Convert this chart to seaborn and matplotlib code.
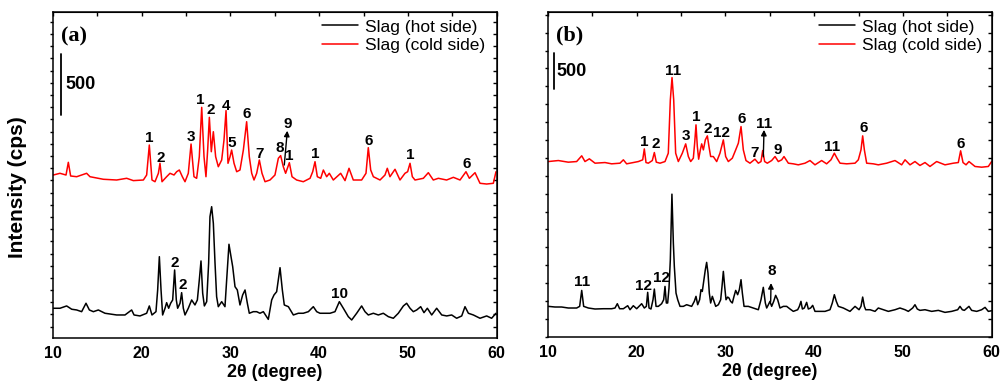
import matplotlib
matplotlib.use("Agg")
import matplotlib.pyplot as plt
import pandas as pd
import seaborn as sns
from matplotlib.ticker import MultipleLocator

sns.set_style("white")
plt.rcParams["font.family"] = ["Liberation Sans", "DejaVu Sans"]
plt.rcParams.update({"text.color": "black", "axes.labelcolor": "black",
                     "xtick.color": "black", "ytick.color": "black",
                     "axes.edgecolor": "black"})

# ---------------- data (2theta in degree, displayed intensity in cps) ----------------
a_cold_x = [10.07, 10.82, 11.50, 11.76, 12.02, 12.70, 13.82, 14.20, 15.70, 17.20, 18.33, 19.08, 20.21, 20.58,
            20.88, 21.18, 21.52, 21.90, 22.08, 22.31, 22.83, 23.21, 23.66, 23.96, 24.26, 24.60, 24.90, 25.27,
            25.58, 25.91, 26.21, 26.51, 26.78, 27.04, 27.26, 27.45, 27.64, 27.86, 28.09, 28.35, 28.65, 29.03,
            29.29, 29.52, 29.74, 29.97, 30.15, 30.42, 30.72, 31.09, 31.47, 31.84, 32.14, 32.41, 32.67, 32.97,
            33.27, 33.57, 33.91, 34.47, 35.03, 35.41, 35.67, 35.97, 36.23, 36.65, 36.95, 37.47, 38.22, 38.98,
            39.28, 39.54, 39.80, 40.18, 40.48, 40.85, 41.15, 41.60, 42.43, 42.92, 43.37, 43.85, 44.79, 45.28,
            45.54, 45.81, 46.11, 46.86, 47.42, 47.68, 47.98, 48.55, 49.11, 49.67, 49.97, 50.24, 50.50, 50.80,
            51.74, 52.30, 52.86, 53.43, 54.36, 55.12, 55.87, 56.54, 56.92, 57.56, 58.12, 58.87, 59.62, 59.92]
a_cold_y = [1244, 1258, 1244, 1348, 1236, 1230, 1258, 1230, 1209, 1203, 1217, 1198, 1203, 1244,
            1490, 1203, 1189, 1258, 1340, 1189, 1230, 1258, 1244, 1271, 1285, 1230, 1189, 1258,
            1498, 1230, 1217, 1394, 1799, 1394, 1230, 1449, 1717, 1435, 1599, 1394, 1312, 1367,
            1531, 1772, 1340, 1394, 1449, 1340, 1271, 1285, 1449, 1681, 1394, 1258, 1203, 1258,
            1367, 1258, 1189, 1203, 1244, 1381, 1403, 1312, 1258, 1345, 1230, 1203, 1189, 1217,
            1271, 1353, 1230, 1217, 1285, 1230, 1258, 1203, 1258, 1198, 1299, 1203, 1203, 1258,
            1468, 1285, 1230, 1203, 1244, 1299, 1230, 1291, 1203, 1258, 1271, 1340, 1230, 1203,
            1217, 1263, 1203, 1217, 1203, 1225, 1203, 1271, 1217, 1263, 1176, 1170, 1176, 1271]

a_hot_x = [10.07, 10.82, 11.57, 12.14, 12.70, 13.26, 13.75, 14.13, 14.58, 15.14, 15.89, 17.20, 18.14, 18.89,
           19.16, 19.83, 20.58, 20.88, 21.18, 21.63, 21.82, 22.01, 22.20, 22.38, 22.65, 22.83, 23.06, 23.28,
           23.51, 23.73, 23.92, 24.07, 24.34, 24.52, 24.71, 24.90, 25.27, 25.65, 26.02, 26.29, 26.51, 26.70,
           26.89, 27.08, 27.34, 27.56, 27.71, 27.90, 28.09, 28.28, 28.46, 28.65, 29.03, 29.40, 29.59, 29.85,
           30.08, 30.27, 30.53, 30.79, 31.09, 31.39, 31.66, 31.92, 32.14, 32.59, 32.97, 33.34, 33.72, 34.28,
           34.66, 34.92, 35.22, 35.60, 35.86, 36.08, 36.54, 37.10, 37.66, 38.22, 38.79, 39.35, 39.73, 40.10,
           40.66, 41.23, 41.79, 42.28, 42.73, 43.29, 43.67, 44.23, 44.79, 45.17, 45.54, 46.11, 46.67, 47.23,
           47.80, 48.36, 48.92, 49.49, 49.86, 50.24, 50.61, 50.99, 51.44, 51.81, 52.19, 52.68, 53.24, 53.81,
           54.37, 54.93, 55.49, 56.06, 56.43, 56.81, 57.37, 58.12, 58.87, 59.43, 59.92]
a_hot_y = [151, 151, 170, 143, 137, 123, 192, 137, 123, 137, 110, 96, 96, 137,
           96, 88, 110, 170, 96, 123, 301, 574, 301, 96, 151, 197, 151, 192,
           219, 465, 219, 151, 192, 279, 151, 96, 151, 219, 178, 219, 383, 539,
           274, 170, 205, 520, 902, 984, 848, 520, 246, 164, 205, 164, 383, 676,
           574, 492, 328, 301, 178, 260, 301, 192, 110, 123, 123, 110, 123, 60,
           219, 260, 287, 484, 301, 178, 164, 96, 110, 110, 123, 164, 123, 110,
           110, 110, 123, 205, 151, 82, 55, 110, 170, 123, 96, 110, 96, 110,
           82, 69, 110, 170, 192, 151, 123, 137, 164, 115, 151, 96, 151, 96,
           88, 96, 69, 88, 164, 110, 96, 69, 88, 69, 110]

b_cold_x = [10.07, 11.20, 12.32, 13.26, 13.83, 14.20, 14.69, 15.33, 16.45, 17.20, 18.14, 18.52, 18.89, 19.64,
            20.21, 20.70, 20.88, 21.07, 21.33, 21.78, 22.01, 22.23, 22.65, 23.21, 23.58, 23.81, 24.00, 24.19,
            24.41, 24.71, 25.16, 25.54, 25.84, 26.10, 26.40, 26.55, 26.70, 26.85, 27.00, 27.19, 27.34, 27.53,
            27.75, 27.98, 28.16, 28.35, 28.65, 29.03, 29.40, 29.78, 30.04, 30.34, 30.79, 31.17, 31.47, 31.77,
            32.03, 32.33, 32.78, 33.34, 33.72, 34.02, 34.21, 34.43, 34.73, 35.22, 35.60, 35.97, 36.35, 36.61,
            37.10, 37.66, 38.22, 38.98, 39.54, 40.10, 40.85, 41.41, 41.90, 42.28, 42.58, 42.92, 43.67, 44.61,
            44.98, 45.28, 45.47, 45.66, 45.92, 46.67, 47.23, 48.17, 49.11, 49.86, 50.24, 50.80, 51.36, 51.92,
            52.49, 53.05, 53.80, 54.74, 55.68, 56.24, 56.50, 56.77, 57.11, 57.44, 58.12, 58.87, 59.62, 59.99]
b_cold_y = [2449, 2463, 2440, 2449, 2529, 2449, 2487, 2426, 2435, 2417, 2426, 2473, 2417, 2435,
            2449, 2473, 2626, 2435, 2426, 2463, 2575, 2440, 2426, 2449, 2566, 3311, 3623, 3311,
            2566, 2449, 2566, 2696, 2519, 2449, 2496, 2706, 2962, 2659, 2482, 2612, 2696, 2612,
            2752, 2808, 2659, 2519, 2519, 2449, 2566, 2752, 2519, 2449, 2496, 2612, 2706, 2938,
            2612, 2463, 2426, 2482, 2426, 2449, 2603, 2449, 2426, 2463, 2519, 2449, 2473, 2519,
            2426, 2417, 2403, 2426, 2463, 2403, 2463, 2417, 2473, 2566, 2496, 2426, 2417, 2426,
            2473, 2612, 2808, 2612, 2426, 2417, 2403, 2426, 2463, 2403, 2473, 2403, 2449, 2394,
            2435, 2380, 2449, 2403, 2426, 2435, 2599, 2435, 2403, 2449, 2380, 2370, 2380, 2449]

b_hot_x = [10.07, 10.82, 11.57, 12.32, 13.26, 13.60, 13.83, 14.05, 14.58, 15.33, 16.27, 17.20, 17.58, 17.84,
           18.10, 18.52, 19.01, 19.27, 19.64, 20.02, 20.58, 20.88, 21.11, 21.26, 21.41, 21.63, 21.86, 22.01,
           22.20, 22.46, 22.83, 23.06, 23.21, 23.36, 23.51, 23.66, 23.81, 23.99, 24.15, 24.26, 24.45, 24.64,
           24.90, 25.27, 25.65, 26.21, 26.51, 26.70, 26.89, 27.11, 27.26, 27.41, 27.60, 27.75, 27.90, 28.05,
           28.20, 28.35, 28.54, 28.73, 28.92, 29.22, 29.48, 29.63, 29.78, 29.93, 30.08, 30.27, 30.42, 30.60,
           30.79, 30.98, 31.17, 31.39, 31.58, 31.77, 31.92, 32.11, 32.59, 33.16, 33.72, 34.02, 34.28, 34.51,
           34.66, 34.85, 35.03, 35.22, 35.45, 35.67, 35.90, 36.16, 36.54, 36.91, 37.29, 37.66, 38.15, 38.34,
           38.52, 38.68, 38.90, 39.16, 39.35, 39.61, 39.84, 40.10, 40.66, 41.23, 41.79, 42.05, 42.28, 42.50,
           42.73, 43.29, 44.04, 44.61, 45.06, 45.28, 45.47, 45.66, 45.81, 46.30, 46.86, 47.23, 47.80, 48.36,
           49.11, 49.67, 50.24, 50.61, 51.10, 51.36, 51.62, 51.92, 52.49, 53.24, 53.99, 54.74, 55.49, 56.17,
           56.43, 56.69, 56.92, 57.44, 57.74, 58.31, 58.87, 59.25, 59.62, 59.99]
b_hot_y = [424, 415, 415, 401, 401, 424, 647, 424, 401, 387, 391, 391, 401, 461,
           391, 391, 433, 377, 433, 391, 461, 401, 424, 620, 401, 387, 517, 666,
           424, 424, 461, 517, 703, 471, 471, 680, 1076, 1993, 1309, 983, 610, 517,
           424, 424, 447, 424, 494, 564, 447, 517, 657, 633, 797, 936, 1039, 890,
           610, 471, 564, 494, 424, 447, 517, 703, 913, 703, 517, 554, 540, 494,
           471, 564, 647, 587, 657, 797, 610, 424, 424, 401, 377, 517, 690, 471,
           401, 447, 494, 424, 494, 578, 517, 401, 424, 424, 387, 354, 377, 424,
           494, 387, 401, 480, 387, 401, 438, 354, 354, 354, 377, 471, 587, 494,
           424, 401, 354, 424, 377, 424, 554, 424, 377, 377, 354, 401, 377, 354,
           377, 401, 377, 354, 401, 447, 387, 368, 377, 354, 368, 340, 354, 377,
           424, 377, 368, 424, 368, 354, 377, 410, 354, 363]

series_names = ["Slag (hot side)", "Slag (cold side)"]
series_colors = ["#000000", "#ff0000"]

# phase labels: (text, 2theta, intensity)
a_labels = [("1", 20.88, 1550), ("2", 22.20, 1381), ("3", 25.57, 1553), ("1", 26.67, 1859),
            ("2", 27.79, 1777), ("4", 29.48, 1810), ("5", 30.19, 1509), ("6", 31.88, 1744),
            ("7", 33.27, 1416), ("8", 35.52, 1463), ("9", 36.42, 1660), ("1", 36.64, 1402),
            ("1", 39.57, 1416), ("6", 45.54, 1525), ("1", 50.24, 1408), ("6", 56.62, 1334),
            ("2", 23.77, 520), ("2", 24.59, 342), ("10", 42.27, 266)]
a_arrows = [((36.08, 1326), (36.42, 1607))]
b_labels = [("1", 20.84, 2728), ("2", 22.16, 2692), ("11", 24.14, 3716), ("3", 25.57, 2808),
            ("1", 26.70, 3069), ("2", 28.02, 2902), ("12", 29.59, 2846), ("6", 31.85, 3041),
            ("7", 33.34, 2575), ("11", 34.39, 2971), ("9", 35.86, 2612), ("11", 41.98, 2650),
            ("6", 45.54, 2916), ("6", 56.54, 2692),
            ("11", 13.83, 759), ("12", 20.77, 712), ("12", 22.84, 820), ("8", 35.23, 912)]
b_arrows = [((34.28, 2515), (34.36, 2892)), ((35.11, 493), (35.15, 750))]

scale_value = 500
a_scale = (10.93, 1736)
b_scale = (10.71, 3460)

xticks = [10, 20, 30, 40, 50, 60]

# ---------------- figure ----------------
fig = plt.figure(figsize=(10, 3.9), dpi=100)
axA = fig.add_axes([0.0527, 0.1333, 0.444, 0.835])
axB = fig.add_axes([0.5477, 0.1367, 0.444, 0.8318])

panels = [
    (axA, a_hot_x, a_hot_y, a_cold_x, a_cold_y, a_labels, a_arrows, a_scale, (-93, 2578), 100, "(a)", 0.606, 0.9785, 0.45),
    (axB, b_hot_x, b_hot_y, b_cold_x, b_cold_y, b_labels, b_arrows, b_scale, (0, 4536), 250, "(b)", 0.611, 0.978, 0.3),
]

for ax, hx, hy, cx, cy, labels, arrows, scale, ylim, ystep, tag, lgx, lgy, sgap in panels:
    df = pd.concat([
        pd.DataFrame({"two_theta": hx, "intensity": hy, "sample": series_names[0]}),
        pd.DataFrame({"two_theta": cx, "intensity": cy, "sample": series_names[1]}),
    ])
    sns.lineplot(data=df, x="two_theta", y="intensity", hue="sample",
                 palette=dict(zip(series_names, series_colors)), estimator=None,
                 sort=False, lw=1.1, ax=ax)
    ax.set_xlim(10, 60)
    ax.set_ylim(*ylim)
    ax.set_xticks(xticks)
    ax.xaxis.set_minor_locator(MultipleLocator(5))
    ax.yaxis.set_major_locator(MultipleLocator(ystep))
    ax.set_yticklabels([])
    ax.tick_params(axis="x", which="major", direction="out", length=4.5, width=1.0,
                   labelsize=11.5, pad=1.5, colors="black")
    ax.tick_params(axis="x", which="minor", direction="out", length=2.5, width=1.0, colors="black")
    ax.tick_params(axis="y", which="major", direction="out", length=2.5, width=1.0, left=True,
                   colors="black")
    for lab in ax.get_xticklabels():
        lab.set_fontweight("bold")
    for s in ax.spines.values():
        s.set_linewidth(1.1)
        s.set_color("black")
    secx = ax.secondary_xaxis("top")
    secx.set_xticks(xticks)
    secx.xaxis.set_minor_locator(MultipleLocator(5))
    secx.tick_params(axis="x", which="both", direction="in", length=3, width=1.0, labeltop=False)
    secy = ax.secondary_yaxis("right")
    secy.yaxis.set_major_locator(MultipleLocator(ystep))
    secy.tick_params(axis="y", which="both", direction="in", length=3, width=1.0, labelright=False)

    ax.set_xlabel("2\u03b8 (degree)", fontsize=13, fontweight="bold", labelpad=2, color="black")
    ax.set_ylabel("")

    for txt, x, y in labels:
        ax.text(x, y, txt, ha="center", va="center", fontsize=11, fontweight="bold", color="black")
    for (x0, y0), (x1, y1) in arrows:
        ax.annotate("", xy=(x1, y1), xytext=(x0, y0),
                    arrowprops=dict(arrowstyle="-|>", color="black", lw=1.0,
                                    mutation_scale=8, shrinkA=0, shrinkB=0))
    # 500 cps scale bar
    ax.plot([scale[0], scale[0]], [scale[1], scale[1] + scale_value], color="black", lw=1.3)
    ax.text(scale[0] + sgap, scale[1] + scale_value * 0.5,
            str(scale_value), ha="left", va="center", fontsize=13, fontweight="bold", color="black")
    ax.text(0.018, 0.927, tag, transform=ax.transAxes, ha="left", va="center",
            fontsize=16, fontweight="bold", color="black",
            family=["Liberation Serif", "DejaVu Serif"])

    leg = ax.legend(loc="upper left", bbox_to_anchor=(lgx, lgy), frameon=False, fontsize=12.5,
                    handlelength=2.1, handletextpad=0.4, labelspacing=0.2, borderpad=0,
                    borderaxespad=0, title=None)
    for t in leg.get_texts():
        t.set_color("black")

fig.text(0.018, 0.52, "Intensity (cps)", rotation=90, ha="center", va="center",
         fontsize=15, fontweight="bold", color="black")

fig.savefig("out.png", dpi=100)
